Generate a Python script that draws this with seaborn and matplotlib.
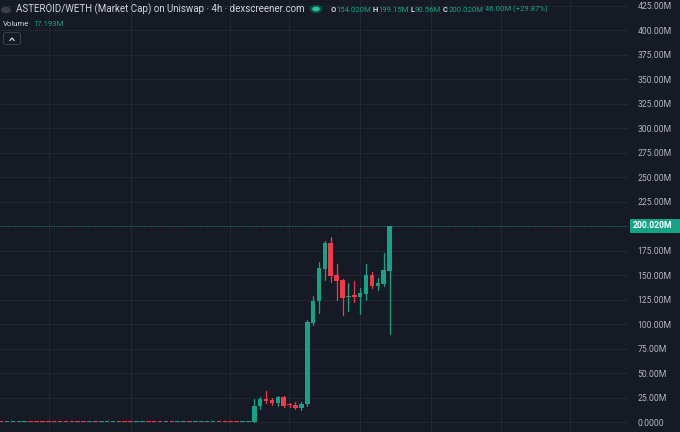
import matplotlib
matplotlib.use("Agg")
import matplotlib.pyplot as plt
import seaborn as sns
import pandas as pd
import numpy as np
from matplotlib.patches import FancyBboxPatch, Circle

# ---------------- data (market cap, millions USD, 4h candles) ----------------
opens = [0.52, 0.31, 0.36, 0.40, 0.44, 0.58, 0.55, 0.52, 0.50, 0.49, 0.47, 0.45, 0.44, 0.42, 0.40,
         0.33, 0.45, 0.36, 0.40, 0.44, 0.55, 0.51, 0.48, 0.38, 0.42, 0.56, 0.52, 0.49, 0.41, 0.50,
         0.40, 0.44, 0.53, 0.42, 0.45, 0.49, 0.52, 0.62, 0.58, 0.55, 0.51, 0.45, 0.50,
         0.6, 16.6, 23.8, 22.4, 19.7, 25.8, 18.0, 17.6, 14.9, 18.7, 101.0, 123.8, 156.4, 182.6,
         150.3, 145.2, 127.5, 130.0, 127.6, 131.2, 150.3, 139.4, 140.8, 154.02]
closes = [0.31, 0.36, 0.40, 0.44, 0.58, 0.55, 0.52, 0.50, 0.49, 0.47, 0.45, 0.44, 0.42, 0.40, 0.33,
          0.45, 0.36, 0.40, 0.44, 0.55, 0.51, 0.48, 0.38, 0.42, 0.56, 0.52, 0.49, 0.41, 0.50, 0.40,
          0.44, 0.53, 0.42, 0.45, 0.49, 0.52, 0.62, 0.58, 0.55, 0.51, 0.45, 0.50, 0.60,
          16.6, 23.8, 21.4, 20.0, 25.8, 17.0, 17.4, 14.9, 19.0, 102.7, 124.0, 157.0, 182.6, 149.3,
          144.0, 127.1, 128.8, 127.6, 132.2, 150.3, 139.4, 141.8, 155.4, 200.02]
highs = [0.70, 0.50, 0.55, 0.60, 0.75, 0.70, 0.68, 0.66, 0.64, 0.62, 0.60, 0.58, 0.57, 0.55, 0.52,
         0.60, 0.56, 0.54, 0.58, 0.70, 0.66, 0.62, 0.60, 0.56, 0.72, 0.68, 0.64, 0.60, 0.66, 0.62,
         0.58, 0.70, 0.66, 0.60, 0.64, 0.68, 0.80, 0.76, 0.72, 0.68, 0.64, 0.66, 0.80,
         23.5, 25.5, 31.9, 24.5, 27.0, 26.5, 19.7, 20.7, 20.5, 104.0, 129.0, 164.0, 185.0, 188.8,
         162.0, 146.0, 141.8, 144.0, 136.7, 162.0, 153.0, 147.6, 172.4, 200.02]
lows = [0.20, 0.18, 0.22, 0.26, 0.30, 0.40, 0.38, 0.36, 0.34, 0.32, 0.30, 0.28, 0.27, 0.25, 0.20,
        0.22, 0.24, 0.24, 0.28, 0.32, 0.38, 0.34, 0.24, 0.26, 0.30, 0.40, 0.36, 0.28, 0.30, 0.26,
        0.28, 0.34, 0.30, 0.30, 0.34, 0.38, 0.44, 0.42, 0.40, 0.38, 0.32, 0.34, 0.44,
        0.3, 13.3, 20.0, 18.0, 16.3, 15.5, 15.3, 14.0, 12.5, 16.3, 99.0, 112.0, 145.0, 143.5,
        124.8, 109.5, 113.6, 122.4, 111.0, 124.8, 137.5, 135.0, 139.0, 90.56]

y_ticks = [0, 25, 50, 75, 100, 125, 150, 175, 200, 225, 250, 275, 300, 325, 350, 375, 400, 425]
y_labels = ["0.0000", "25.00M", "50.00M", "75.00M", "100.00M", "125.00M", "150.00M", "175.00M",
            "", "225.00M", "250.00M", "275.00M", "300.00M", "325.00M", "350.00M", "375.00M",
            "400.00M", "425.00M"]
time_grid = [8.2, 22.1, 38.9, 48.9, 61.0, 73.0, 84.9, 96.7]   # day-boundary grid lines (candle index)

title = "ASTEROID/WETH (Market Cap) on Uniswap · 4h · dexscreener.com"
ohlc_parts = [("O", "l"), ("154.020M", "g"), (" H", "l"), ("199.15M", "g"), (" L", "l"),
              ("90.56M", "g"), (" C", "l"), ("200.020M", "g"), (" 46.00M (+29.87%)", "g")]
volume_value = "17.193M"
last_price = 200.02
last_label = "200.020M"

# ---------------- style ----------------
BG = "#161a25"
GRID = "#222632"
GREEN = "#14a386"
RED = "#f03a4c"
TXT = "#d1d4dc"
AX_TXT = "#b2b5be"

sns.set_theme(style="dark", rc={"axes.facecolor": BG, "figure.facecolor": BG})
plt.rcParams["font.family"] = ["Roboto", "DejaVu Sans"]

df = pd.DataFrame({"open": opens, "high": highs, "low": lows, "close": closes})
df["idx"] = np.arange(len(df))
df["dir"] = np.where(df["close"] >= df["open"], "up", "down")

fig = plt.figure(figsize=(6.8, 4.32), dpi=100)
W, H = 680.0, 432.0
ax = fig.add_axes([0, 0, 628 / W, 1])
ax.set_facecolor(BG)

# wicks via seaborn
wick = pd.concat([df[["idx", "low", "dir"]].rename(columns={"low": "price"}),
                  df[["idx", "high", "dir"]].rename(columns={"high": "price"})])
sns.lineplot(data=wick, x="idx", y="price", units="idx", estimator=None, hue="dir",
             palette={"up": GREEN, "down": RED}, linewidth=0.9, legend=False, sort=False, ax=ax)

# bodies
minh = 1.0
body_lo = np.minimum(df["open"], df["close"])
body_h = (df["close"] - df["open"]).abs()
mid = (df["open"] + df["close"]) / 2
bottom = np.where(body_h < minh, mid - minh / 2, body_lo)
height = np.maximum(body_h, minh)
colors = [GREEN if d == "up" else RED for d in df["dir"]]
ax.bar(df["idx"], height, bottom=bottom, width=0.78, color=colors, linewidth=0, zorder=3)

# last price line
ax.axhline(last_price, color=GREEN, linestyle=(0, (1, 1.5)), linewidth=0.7, alpha=0.7, zorder=2)

ax.set_xlim(-0.2, 106.5)
ax.set_ylim(-9.9, 430.9)
ax.set_xticks(time_grid)
ax.set_xticklabels([])
ax.set_yticks(y_ticks)
ax.set_yticklabels(y_labels)
ax.yaxis.tick_right()
ax.tick_params(axis="y", length=0, pad=7, labelsize=6.2, labelcolor=AX_TXT)
ax.tick_params(axis="x", length=0)
ax.grid(True, color=GRID, linewidth=0.8)
ax.set_axisbelow(True)
ax.set_xlabel("")
ax.set_ylabel("")
for s in ax.spines.values():
    s.set_visible(False)

# last price label box
fig.patches.append(FancyBboxPatch((630 / W, 1 - 232.5 / H), 50 / W, 13 / H, boxstyle="square,pad=0",
                                  transform=fig.transFigure, facecolor=GREEN, edgecolor="none"))
fig.text(633 / W, 1 - 226 / H, last_label, color="white", fontsize=6.2, va="center", ha="left",
         fontweight="bold")

# header
fig.patches.append(Circle((6 / W, 1 - 10 / H), 3.2 / H, transform=fig.transFigure,
                          facecolor="#3b3e4a", edgecolor="none"))
fig.text(16 / W, 1 - 9.5 / H, title, color=TXT, fontsize=7.0, va="center", ha="left")
fig.patches.append(Circle((316 / W, 1 - 9 / H), 4.2 / H, transform=fig.transFigure,
                          facecolor="#0e4c43", edgecolor="none"))
fig.patches.append(Circle((316 / W, 1 - 9 / H), 2.4 / H, transform=fig.transFigure,
                          facecolor="#22c39c", edgecolor="none"))

fig.canvas.draw()
renderer = fig.canvas.get_renderer()
x = 331.0
for txt, kind in ohlc_parts:
    t = fig.text(x / W, 1 - 9.5 / H, txt, color=(TXT if kind == "l" else GREEN), fontsize=5.6,
                 va="center", ha="left", fontweight=("bold" if kind == "l" else "normal"))
    bb = t.get_window_extent(renderer=renderer)
    x += bb.width

t = fig.text(3 / W, 1 - 24 / H, "Volume", color=TXT, fontsize=5.6, va="center", ha="left")
bb = t.get_window_extent(renderer=renderer)
fig.text((3 + bb.width + 4) / W, 1 - 24 / H, volume_value, color=GREEN, fontsize=5.6,
         va="center", ha="left")

fig.patches.append(FancyBboxPatch((3.5 / W, 1 - 44.5 / H), 17 / W, 12 / H,
                                  boxstyle="round,pad=0,rounding_size=0.004",
                                  transform=fig.transFigure, facecolor=BG, edgecolor="#3a3e4a",
                                  linewidth=0.8))
fig.lines.append(plt.Line2D([9.8 / W, 12 / W, 14.2 / W], [1 - 40.5 / H, 1 - 38 / H, 1 - 40.5 / H],
                            transform=fig.transFigure, color=TXT, linewidth=0.9))

fig.savefig("out.png", dpi=100, facecolor=BG)
